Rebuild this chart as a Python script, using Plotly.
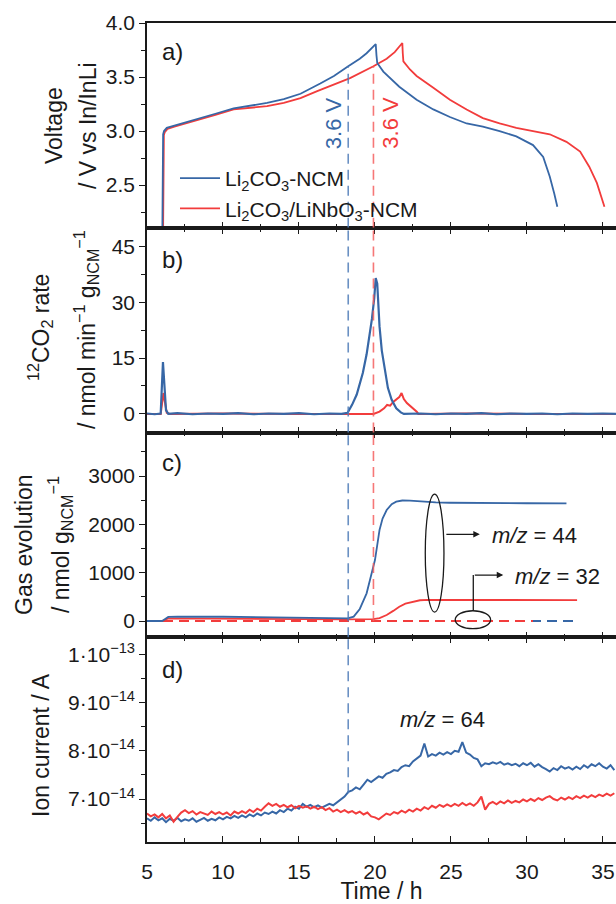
import numpy as np
import plotly.graph_objects as go
from plotly.subplots import make_subplots

BLUE = "#3767a6"
RED = "#f23c3c"
BLUE_DASH = "rgba(80,125,185,0.85)"
RED_DASH = "rgba(245,95,95,0.85)"
FONT = "Liberation Sans, Arial, sans-serif"
INK = "#1a1a1a"

# ---------------- Panel a: voltage ----------------
va_blue_t = [6.0, 6.02, 6.06, 6.12, 6.3, 6.8, 7.5, 8.5, 9.5, 10.7, 11.8, 12.9, 14.0, 15.1, 16.4,
             17.3, 18.24, 19.0, 19.45, 19.8, 20.05, 20.1, 20.15, 20.55, 21.6, 22.74, 23.84, 24.93,
             26.03, 27.1, 28.2, 29.3, 30.4, 31.07, 31.5, 31.8, 32.0]
va_blue_v = [1.9, 2.6, 2.97, 3.0, 3.03, 3.05, 3.08, 3.12, 3.16, 3.21, 3.235, 3.26, 3.295, 3.345, 3.44,
             3.51, 3.60, 3.67, 3.72, 3.77, 3.805, 3.70, 3.63, 3.55, 3.41, 3.29, 3.20, 3.13,
             3.07, 3.04, 3.0, 2.95, 2.87, 2.76, 2.58, 2.42, 2.30]
va_red_t = [6.05, 6.07, 6.11, 6.17, 6.35, 6.8, 7.5, 8.5, 9.5, 10.7, 11.8, 12.9, 14.0, 15.1, 16.2,
            17.3, 18.36, 19.9, 20.77, 21.3, 21.8, 21.83, 21.87, 22.3, 22.74, 23.84, 24.93, 26.03,
            27.1, 28.2, 29.3, 30.4, 31.5, 32.6, 33.5, 34.1, 34.6, 35.1]
va_red_v = [1.9, 2.6, 2.96, 2.99, 3.02, 3.04, 3.07, 3.11, 3.15, 3.20, 3.215, 3.23, 3.26, 3.305, 3.37,
            3.43, 3.49, 3.60, 3.67, 3.73, 3.815, 3.72, 3.645, 3.57, 3.51, 3.40, 3.29, 3.20,
            3.12, 3.07, 3.03, 3.00, 2.97, 2.90, 2.81, 2.67, 2.52, 2.30]
t36_blue = 18.24
t36_red = 19.9
v_mark = 3.6

# ---------------- Panel b: CO2 rate ----------------
co2_blue_t = [5.0, 5.5, 5.9, 6.05, 6.25, 6.4, 7, 8, 9, 10, 11, 12, 13, 14, 15, 16, 17, 17.8,
              18.2, 18.5, 18.8, 19.0, 19.2, 19.45, 19.65, 19.8, 19.95, 20.05, 20.15, 20.3, 20.45,
              20.66, 20.85, 21.1, 21.4, 21.7, 21.9, 23, 24, 25, 26, 27, 28, 29, 30, 31, 32, 33,
              34, 35, 35.9]
co2_blue = [0.1, -0.1, 0.1, 13.9, 1.0, 0.0, 0.2, -0.1, 0.1, 0.0, 0.2, -0.1, 0.1, 0.0, 0.2, -0.1,
            0.1, 0.0, 0.3, 2.5, 5.2, 7.8, 11.0, 16.0, 21.0, 25.5, 31.0, 36.5, 35.0, 23.5, 17.0,
            11.5, 7.0, 3.8, 1.5, 0.4, 0.0, 0.1, -0.1, 0.1, 0.0, 0.2, -0.1, 0.1, 0.0, 0.1, -0.1,
            0.1, 0.0, 0.1, 0.0]
co2_red_t = [5.0, 5.9, 6.08, 6.3, 6.5, 10, 15, 19.9, 20.3, 20.6, 20.8, 21.0, 21.2, 21.4, 21.6,
             21.75, 21.9, 22.1, 22.3, 22.45, 22.6, 22.75, 22.85, 26, 30, 35.9]
co2_red = [0.0, 0.0, 5.6, 0.3, 0.0, 0.1, 0.0, 0.0, 0.6, 1.5, 2.4, 2.2, 3.2, 3.8, 4.5,
           5.6, 4.0, 2.9, 2.2, 1.5, 1.1, 0.6, 0.0, 0.1, 0.0, 0.0]

# ---------------- Panel c: gas evolution ----------------
gas44_blue_t = [5.0, 6.0, 6.4, 7, 10, 14, 17, 18.2, 18.6, 19.0, 19.45, 19.7, 20.0, 20.3, 20.5,
                20.77, 21.1, 21.4, 21.8, 22.3, 23.0, 24.0, 24.9, 27, 30, 32.6]
gas44_blue = [0, 0, 85, 90, 88, 75, 60, 55, 90, 250, 573, 900, 1263, 1884, 2120,
              2298, 2420, 2470, 2495, 2491, 2470, 2455, 2449, 2440, 2438, 2436]
gas44_red_t = [5.0, 6.0, 6.4, 10, 15, 18, 19.9, 20.3, 20.77, 21.2, 21.6, 22.0, 22.5, 22.96,
               23.5, 26, 30, 33.3]
gas44_red = [0, 0, 55, 55, 40, 35, 40, 60, 124, 210, 296, 360, 400, 430,
             438, 435, 432, 432]
gas32_blue_t = [5.0, 33.3]
gas32_blue = [0, 0]
gas32_red_t = [5.0, 30.4]
gas32_red = [0, 0]

# ---------------- Panel d: ion current m/z 64 (units of 1e-14 A) ----------------
ion_t = np.round(np.arange(5.0, 35.76, 0.25), 2)
ion_blue_e14 = [
    6.60, 6.55, 6.62, 6.56, 6.60, 6.52, 6.59, 6.55, 6.61, 6.54, 6.58, 6.55, 6.60, 6.53, 6.57, 6.61,
    6.55, 6.59, 6.56, 6.62, 6.58, 6.63, 6.60, 6.65, 6.61, 6.66, 6.62, 6.68, 6.64, 6.70, 6.66, 6.72,
    6.69, 6.74, 6.70, 6.77, 6.73, 6.80, 6.76, 6.84, 6.80, 6.90, 6.84, 6.88, 6.83, 6.87, 6.82, 6.86,
    6.90, 6.87, 6.93, 6.98, 7.05, 7.15, 7.18, 7.24, 7.20, 7.30, 7.40, 7.35, 7.42, 7.47, 7.44, 7.52,
    7.55, 7.60, 7.58, 7.66, 7.70, 7.68, 7.78, 7.85, 7.90, 8.15, 7.88, 7.93, 7.90, 7.96, 7.92, 7.97,
    7.93, 8.00, 7.98, 8.18, 7.96, 7.92, 7.85, 7.82, 7.68, 7.74, 7.72, 7.76, 7.73, 7.77, 7.71, 7.74,
    7.70, 7.73, 7.68, 7.74, 7.70, 7.75, 7.67, 7.72, 7.66, 7.62, 7.57, 7.64, 7.60, 7.68, 7.63, 7.66,
    7.61, 7.67, 7.62, 7.70, 7.65, 7.72, 7.68, 7.74, 7.67, 7.63, 7.70, 7.60]
ion_red_e14 = [
    6.70, 6.64, 6.68, 6.62, 6.69, 6.60, 6.66, 6.53, 6.63, 6.72, 6.77, 6.71, 6.75, 6.68, 6.73, 6.70,
    6.67, 6.74, 6.69, 6.73, 6.68, 6.72, 6.66, 6.74, 6.70, 6.75, 6.71, 6.78, 6.73, 6.80, 6.76, 6.84,
    6.91, 6.86, 6.90, 6.84, 6.88, 6.83, 6.87, 6.81, 6.86, 6.82, 6.85, 6.80, 6.84, 6.79, 6.83, 6.77,
    6.81, 6.74, 6.78, 6.73, 6.77, 6.72, 6.75, 6.70, 6.74, 6.68, 6.72, 6.64, 6.62, 6.58, 6.65, 6.70,
    6.67, 6.73, 6.70, 6.76, 6.72, 6.78, 6.74, 6.80, 6.76, 6.83, 6.79, 6.86, 6.82, 6.88, 6.84, 6.89,
    6.85, 6.90, 6.86, 6.92, 6.87, 6.91, 6.86, 6.93, 7.05, 6.78, 6.90, 6.94, 6.89, 6.95, 6.91, 6.97,
    6.92, 6.96, 6.93, 6.99, 6.95, 7.00, 6.96, 7.02, 6.98, 7.03, 7.06, 7.00, 6.97, 7.03, 6.99, 7.04,
    7.00, 7.06, 7.02, 7.07, 7.03, 7.08, 7.04, 7.09, 7.06, 7.11, 7.07, 7.12]
ion_blue = np.array(ion_blue_e14) * 1e-14
ion_red = np.array(ion_red_e14) * 1e-14
ion_blue_at_mark = 7.12e-14

# axis settings
X_RANGE = [5, 35.86]
YA_RANGE = [2.105, 4.0]
YB_RANGE = [-5, 50]
YC_RANGE = [-336, 3903]
YD_RANGE = [6.11e-14, 10.35e-14]
ion_tickvals = [7e-14, 8e-14, 9e-14, 1e-13]
ion_ticktext = ["7·10<sup>−14</sup>", "8·10<sup>−14</sup>", "9·10<sup>−14</sup>", "1·10<sup>−13</sup>"]

fig = make_subplots(rows=4, cols=1, shared_xaxes=True, vertical_spacing=0)

# panel a
fig.add_trace(go.Scatter(x=va_red_t, y=va_red_v, mode="lines", line=dict(color=RED, width=1.8),
                         name="Li<sub>2</sub>CO<sub>3</sub>/LiNbO<sub>3</sub>-NCM", legendrank=2), 1, 1)
fig.add_trace(go.Scatter(x=va_blue_t, y=va_blue_v, mode="lines", line=dict(color=BLUE, width=1.8),
                         name="Li<sub>2</sub>CO<sub>3</sub>-NCM", legendrank=1), 1, 1)
# panel b
fig.add_trace(go.Scatter(x=co2_red_t, y=co2_red, mode="lines", line=dict(color=RED, width=2),
                         showlegend=False), 2, 1)
fig.add_trace(go.Scatter(x=co2_blue_t, y=co2_blue, mode="lines", line=dict(color=BLUE, width=2.2),
                         showlegend=False), 2, 1)
# panel c
fig.add_trace(go.Scatter(x=gas32_blue_t, y=gas32_blue, mode="lines",
                         line=dict(color=BLUE, width=1.8, dash="10px,6px"), showlegend=False), 3, 1)
fig.add_trace(go.Scatter(x=gas32_red_t, y=gas32_red, mode="lines",
                         line=dict(color=RED, width=1.8, dash="10px,6px"), showlegend=False), 3, 1)
fig.add_trace(go.Scatter(x=gas44_red_t, y=gas44_red, mode="lines", line=dict(color=RED, width=1.8),
                         showlegend=False), 3, 1)
fig.add_trace(go.Scatter(x=gas44_blue_t, y=gas44_blue, mode="lines", line=dict(color=BLUE, width=1.8),
                         showlegend=False), 3, 1)
# panel d
fig.add_trace(go.Scatter(x=ion_t, y=ion_blue, mode="lines", line=dict(color=BLUE, width=2),
                         showlegend=False), 4, 1)
fig.add_trace(go.Scatter(x=ion_t, y=ion_red, mode="lines", line=dict(color=RED, width=2),
                         showlegend=False), 4, 1)

# axes
for r in range(1, 5):
    fig.update_xaxes(range=X_RANGE, dtick=5, tick0=0, ticks="inside", ticklen=6, tickwidth=1.3,
                     tickcolor=INK, showline=True, linecolor=INK, linewidth=1.5, automargin=False,
                     mirror=(True if r == 1 else "ticks"), showgrid=False, zeroline=False,
                     minor=dict(dtick=2.5, tick0=0, ticks="inside", ticklen=4, tickcolor=INK),
                     tickfont=dict(size=21, color=INK, family=FONT), row=r, col=1)
    fig.update_yaxes(ticks="outside", ticklen=6, tickwidth=1.3, tickcolor=INK, showline=True,
                     linecolor=INK, linewidth=1.5, showgrid=False, zeroline=False, automargin=False,
                     tickfont=dict(size=21, color=INK, family=FONT), row=r, col=1)

fig.update_xaxes(title=dict(text="Time / h", font=dict(size=23, color=INK, family=FONT), standoff=10),
                 ticklabelstandoff=10, row=4, col=1)
fig.update_yaxes(range=YA_RANGE, dtick=0.5, tick0=0, tickformat=".1f",
                 minor=dict(dtick=0.25, tick0=0, ticks="outside", ticklen=4, tickcolor=INK), row=1, col=1)
fig.update_yaxes(range=YB_RANGE, dtick=15, tick0=0,
                 minor=dict(dtick=7.5, tick0=0, ticks="outside", ticklen=4, tickcolor=INK), row=2, col=1)
fig.update_yaxes(range=YC_RANGE, dtick=1000, tick0=0,
                 minor=dict(dtick=500, tick0=0, ticks="outside", ticklen=4, tickcolor=INK), row=3, col=1)
fig.update_yaxes(range=YD_RANGE, tickmode="array", tickvals=ion_tickvals, ticktext=ion_ticktext,
                 minor=dict(tickmode="linear", dtick=5e-15, tick0=0, ticks="outside", ticklen=4,
                            tickcolor=INK), row=4, col=1)

# vertical dashed marker lines
dash_b = dict(color=BLUE_DASH, width=1.6, dash="10px,6px")
dash_r = dict(color=RED_DASH, width=1.6, dash="10px,6px")
shapes = [
    dict(type="line", xref="x", yref="y", x0=t36_blue, x1=t36_blue, y0=YA_RANGE[0], y1=v_mark, line=dash_b),
    dict(type="line", xref="x2", yref="y2 domain", x0=t36_blue, x1=t36_blue, y0=0, y1=1, line=dash_b),
    dict(type="line", xref="x3", yref="y3 domain", x0=t36_blue, x1=t36_blue, y0=0, y1=1, line=dash_b),
    dict(type="line", xref="x4", yref="y4", x0=t36_blue, x1=t36_blue, y0=ion_blue_at_mark,
         y1=YD_RANGE[1], line=dash_b),
    dict(type="line", xref="x", yref="y", x0=t36_red, x1=t36_red, y0=YA_RANGE[0], y1=v_mark, line=dash_r),
    dict(type="line", xref="x2", yref="y2 domain", x0=t36_red, x1=t36_red, y0=0, y1=1, line=dash_r),
    dict(type="line", xref="x3", yref="y3", x0=t36_red, x1=t36_red, y0=0, y1=YC_RANGE[1], line=dash_r),
    # ellipses and connector in panel c
    dict(type="circle", xref="x3", yref="y3", x0=23.31, x1=24.54, y0=186, y1=2629,
         line=dict(color=INK, width=1.3)),
    dict(type="circle", xref="x3", yref="y3", x0=25.28, x1=27.61, y0=-159, y1=213,
         line=dict(color=INK, width=1.3)),
    dict(type="line", xref="x3", yref="y3", x0=26.47, x1=26.47, y0=213, y1=952,
         line=dict(color=INK, width=1.3)),
]
fig.update_layout(shapes=shapes)

def px_x(p):
    return (p - 147) / 469.0

def px_y(p):
    return (842 - p) / 819.0

ann = []
tf = dict(family=FONT, color=INK)
# y-axis titles
ann.append(dict(text="Voltage", x=px_x(54), y=px_y(126), textangle=-90, font=dict(size=23, **tf)))
ann.append(dict(text="/ V vs In/InLi", x=px_x(88), y=px_y(126), textangle=-90, font=dict(size=23, **tf)))
ann.append(dict(text="<sup>12</sup>CO<sub>2</sub> rate", x=px_x(40), y=px_y(328), textangle=-90,
                font=dict(size=23, **tf)))
ann.append(dict(text="/ nmol min<sup>−1</sup> g<sub>NCM</sub><sup>−1</sup>", x=px_x(86), y=px_y(330),
                textangle=-90, font=dict(size=23, **tf)))
ann.append(dict(text="Gas evolution", x=px_x(24), y=px_y(545), textangle=-90, font=dict(size=23, **tf)))
ann.append(dict(text="/ nmol g<sub>NCM</sub><sup>−1</sup>", x=px_x(60), y=px_y(545), textangle=-90,
                font=dict(size=23, **tf)))
ann.append(dict(text="Ion current / A", x=px_x(41), y=px_y(745), textangle=-90, font=dict(size=23, **tf)))
for a in ann:
    a.update(xref="paper", yref="paper", xanchor="center", yanchor="middle", showarrow=False)

# panel labels
for lab, yy in [("a)", 52), ("b)", 259), ("c)", 462), ("d)", 669)]:
    ann.append(dict(text=lab, xref="paper", yref="paper", x=px_x(160), y=px_y(yy), xanchor="left",
                    yanchor="middle", showarrow=False, font=dict(size=24, **tf)))

# 3.6 V labels
ann.append(dict(text="3.6 V", xref="x", yref="y", x=17.27, y=3.077, textangle=-90, showarrow=False,
                font=dict(size=22, family=FONT, color=BLUE)))
ann.append(dict(text="3.6 V", xref="x", yref="y", x=21.05, y=3.077, textangle=-90, showarrow=False,
                font=dict(size=22, family=FONT, color=RED)))

# panel c arrows + texts
ann.append(dict(x=26.9, y=1795, ax=24.6, ay=1795, xref="x3", yref="y3", axref="x3", ayref="y3",
                text="", showarrow=True, arrowhead=2, arrowsize=1, arrowwidth=1.3, arrowcolor=INK))
ann.append(dict(x=28.44, y=952, ax=26.47, ay=952, xref="x3", yref="y3", axref="x3", ayref="y3",
                text="", showarrow=True, arrowhead=2, arrowsize=1, arrowwidth=1.3, arrowcolor=INK))
ann.append(dict(text="<i>m/z</i> = 44", xref="x3", yref="y3", x=27.57, y=1780, xanchor="left",
                yanchor="middle", showarrow=False, font=dict(size=22, **tf)))
ann.append(dict(text="<i>m/z</i> = 32", xref="x3", yref="y3", x=29.1, y=917, xanchor="left",
                yanchor="middle", showarrow=False, font=dict(size=22, **tf)))
ann.append(dict(text="<i>m/z</i> = 64", xref="x4", yref="y4", x=21.5, y=8.64e-14, xanchor="left",
                yanchor="middle", showarrow=False, font=dict(size=22, **tf)))

fig.update_layout(
    annotations=ann,
    width=616, height=904,
    margin=dict(l=147, r=0, t=23, b=62),
    paper_bgcolor="white", plot_bgcolor="white",
    font=dict(family=FONT, color=INK),
    showlegend=True,
    legend=dict(x=px_x(175), y=px_y(158), xanchor="left", yanchor="top", bgcolor="rgba(0,0,0,0)",
                font=dict(size=21, family=FONT, color=INK), tracegroupgap=0, itemwidth=40),
)

fig.write_html("out.html")
